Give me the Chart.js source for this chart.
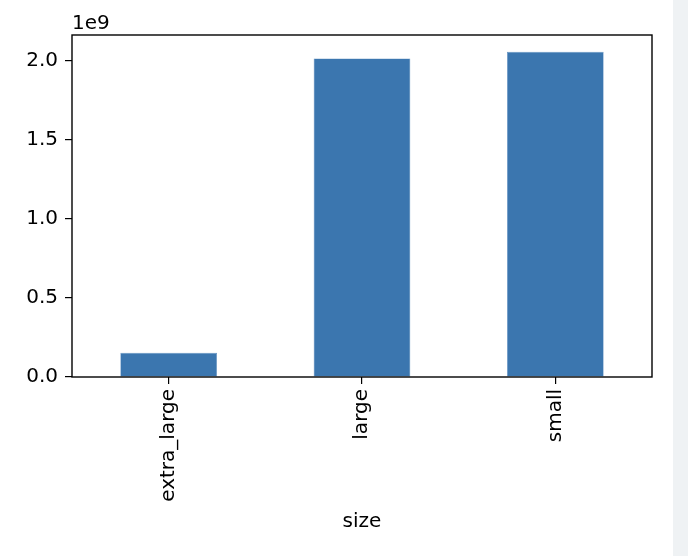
<!DOCTYPE html>
<html>
<head>
<meta charset="utf-8">
<script src="https://cdn.jsdelivr.net/npm/chart.js@4/dist/chart.umd.min.js"></script>
<style>
  body { margin: 0; background: #fff; }
  #wrap { position: relative; width: 688px; height: 556px; overflow: hidden; }
  #side { position: absolute; left: 673px; top: 0; width: 15px; height: 556px; background: #eff2f4; }
  canvas { position: absolute; left: 0; top: 0; }
</style>
</head>
<body>
<div id="wrap">
  <canvas id="canvas" width="688" height="556"></canvas>
  <div id="side"></div>
</div>
<script>
// data
const sizes = ['extra_large', 'large', 'small'];
const totals = [0.153e9, 2.013e9, 2.055e9];
const yTicks = [0, 0.5e9, 1.0e9, 1.5e9, 2.0e9];
const yMax = 2.161e9;

Chart.defaults.font.family = "'DejaVu Sans', sans-serif";
Chart.defaults.font.size = 20;
Chart.defaults.color = '#000';

// frame round the plot and the offset text "1e9"
const framePlugin = {
    id: 'frame',
    afterDraw(chart) {
        const a = chart.chartArea;
        const ctx = chart.ctx;
        ctx.save();
        ctx.strokeStyle = '#000';
        ctx.lineWidth = 1.4;
        ctx.strokeRect(a.left, a.top, a.right - a.left, a.bottom - a.top);
        ctx.fillStyle = '#000';
        ctx.font = "20px 'DejaVu Sans'";
        ctx.textAlign = 'left';
        ctx.textBaseline = 'bottom';
        ctx.fillText('1e9', a.left, a.top - 1);
        ctx.restore();
    }
};

const canvas = document.getElementById('canvas');
const chart = new Chart(canvas, {
    type: 'bar',
    data: {
        labels: sizes,
        datasets: [{
            data: totals,
            backgroundColor: '#3b76af',
            borderColor: '#5f8fbf',
            borderWidth: 0.6,
            barPercentage: 0.5,
            categoryPercentage: 1.0
        }]
    },
    options: {
        responsive: false,
        animation: false,
        layout: { padding: { left: 0, right: 36, top: 35, bottom: 0 } },
        plugins: { legend: { display: false }, tooltip: { enabled: false } },
        scales: {
            x: {
                offset: true,
                grid: { display: true, offset: false, drawOnChartArea: false, drawTicks: true, tickLength: 7, color: '#000', lineWidth: 1.2 },
                border: { display: false },
                ticks: { minRotation: 90, maxRotation: 90, padding: 5, color: '#000' },
                title: { display: true, text: 'size', color: '#000', padding: { top: 0, bottom: 22 } },
                afterFit(scale) { scale.height = 179; }
            },
            y: {
                min: 0,
                max: yMax,
                grid: { display: true, drawOnChartArea: false, drawTicks: true, tickLength: 7, color: '#000', lineWidth: 1.2 },
                border: { display: false },
                afterBuildTicks(scale) { scale.ticks = yTicks.map(v => ({ value: v })); },
                ticks: {
                    padding: 7,
                    color: '#000',
                    callback: v => (v / 1e9).toFixed(1)
                },
                afterFit(scale) { scale.width = 72; }
            }
        }
    },
    plugins: [framePlugin]
});
</script>
</body>
</html>
